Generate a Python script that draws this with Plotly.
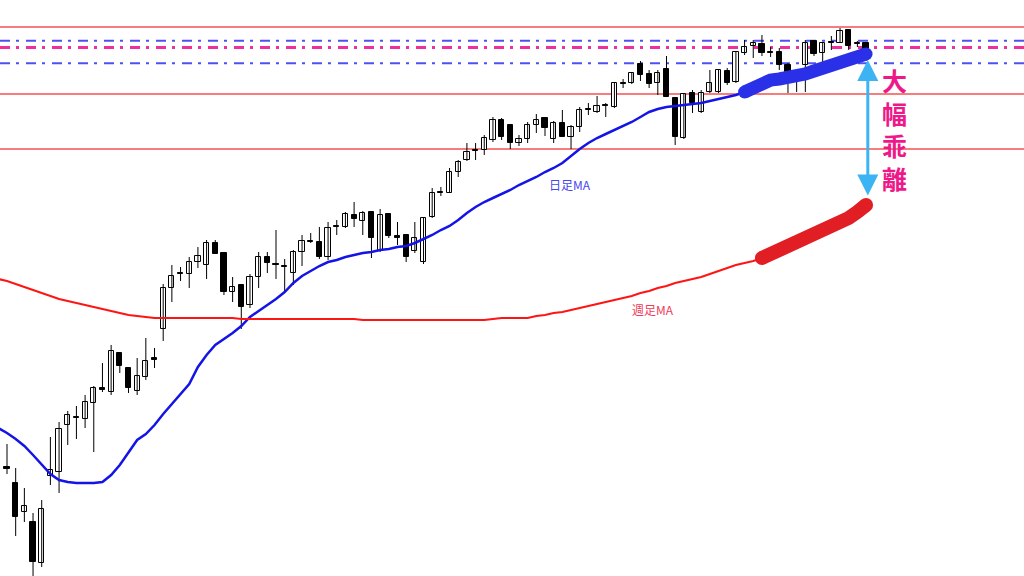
import plotly.graph_objects as go

# ---- candle data (price units) ----
idx = list(range(100))
open_ = [113.3,111.7,108.8,107.8,103.7,112.4,112.8,117.5,118.3,118.1,
         119.7,121.2,120.8,124.7,123.2,120.9,122.3,124.2,127.1,131.2,
         132.7,132.6,133.8,133.5,135.7,134.7,130.8,131.5,129.5,132.3,
         134.3,133.6,133.4,132.7,134.8,135.9,135.8,134.3,137.4,137.3,
         138.5,137.9,138.8,134.9,138.6,136.4,136.5,134.9,133.8,138.3,
         140.8,140.7,142.8,144.0,145.0,145.0,146.0,148.0,147.5,145.7,
         146.1,147.5,148.2,146.1,147.7,146.3,147.3,149.1,148.8,149.5,
         149.3,151.7,151.7,153.6,152.6,151.7,153.1,150.2,146.2,150.7,
         148.8,150.8,150.8,152.9,151.8,154.7,155.4,155.6,154.8,154.8,
         153.5,152.0,153.5,155.9,154.7,155.8,155.7,157.0,155.7,155.7]
high = [115.6,113.2,111.2,108.7,110.0,116.3,117.8,118.9,119.4,120.5,
        121.4,123.7,125.5,124.8,123.3,124.2,126.2,125.2,131.6,133.5,
        133.3,134.3,135.3,136.0,136.0,134.7,132.3,131.5,132.6,134.8,
        134.8,137.0,134.1,135.0,136.5,136.7,137.3,137.8,138.0,138.8,
        139.8,138.9,138.9,139.1,138.7,137.8,136.6,137.8,138.2,141.2,
        141.3,143.2,144.0,145.7,145.7,146.5,148.3,148.2,147.5,146.5,
        147.8,148.6,148.3,147.9,149.0,147.5,149.3,149.7,150.4,149.7,
        151.7,152.1,152.8,153.9,153.0,153.0,154.4,150.3,150.6,151.0,
        151.0,153.0,153.0,153.2,154.8,156.0,156.0,156.5,155.3,155.2,
        153.7,152.5,156.0,156.0,155.8,156.4,157.2,157.1,155.9,155.8]
low = [112.6,106.4,107.8,102.0,103.3,111.5,110.7,115.5,116.1,117.2,
       114.8,120.8,120.5,122.7,120.7,120.5,122.0,123.2,125.9,129.8,
       131.9,131.2,133.2,132.1,134.6,130.5,129.8,127.1,129.2,131.2,
       132.7,132.1,130.9,131.5,133.4,135.7,134.1,134.0,136.5,137.2,
       137.3,136.5,134.2,134.8,136.2,135.5,133.8,134.7,133.6,138.2,
       140.4,140.7,142.3,143.9,144.0,144.5,145.8,146.0,145.1,145.4,
       145.7,146.7,146.4,145.7,146.3,145.1,146.8,148.5,148.7,148.3,
       149.2,151.2,151.6,151.9,151.2,150.5,150.3,145.5,146.1,148.7,
       148.7,150.7,150.7,151.5,151.7,154.5,154.2,154.4,154.3,153.0,
       150.7,150.8,150.8,154.4,153.7,155.0,155.7,155.0,155.3,154.9]
close = [113.1,108.3,109.4,103.8,109.1,113.0,117.1,118.5,118.2,119.8,
         121.2,121.0,124.9,123.4,121.2,122.4,123.9,124.0,131.2,132.4,
         132.6,133.8,134.4,135.7,134.6,130.8,131.3,129.3,132.3,134.3,
         133.7,133.5,133.3,134.8,135.9,135.8,134.3,137.2,137.3,138.6,
         138.1,138.7,136.2,138.5,136.4,136.2,134.3,136.2,138.2,140.7,
         140.7,142.8,143.8,144.8,144.9,146.2,148.0,146.3,145.7,146.1,
         147.5,148.0,147.2,147.7,146.3,147.3,149.0,149.0,149.4,149.4,
         151.7,151.6,152.7,152.5,151.6,152.7,150.3,146.3,150.6,149.7,
         150.7,151.7,153.0,151.7,154.8,155.3,155.7,154.7,154.7,153.5,
         152.8,152.1,155.7,154.6,155.7,155.7,156.9,155.4,155.6,155.0]

# ---- moving averages ----
ma_idx = list(range(-1, 100))
daily_ma = [117.2,
            116.7,116.1,115.4,114.5,113.5,112.6,112.0,111.8,111.7,111.7,
            111.7,111.8,112.5,113.5,114.8,116.0,116.6,117.5,118.6,119.6,
            120.5,121.6,123.3,124.5,125.5,126.1,126.7,127.4,128.3,128.9,
            129.5,130.1,130.8,131.7,132.4,132.9,133.4,133.8,134.0,134.3,
            134.5,134.7,134.8,135.0,135.1,135.3,135.4,135.7,136.1,136.5,
            137.0,137.4,138.0,138.7,139.3,139.8,140.2,140.6,141.0,141.5,
            141.9,142.3,142.8,143.2,143.7,144.4,145.1,145.7,146.2,146.6,
            147.0,147.4,147.8,148.3,148.8,149.1,149.3,149.4,149.5,149.6,
            149.7,149.9,150.1,150.3,150.5,150.8,151.2,151.7,152.0,152.1,
            152.2,152.3,152.6,152.9,153.2,153.5,153.8,154.0,154.3,154.6]
weekly_ma = [132.1,
             131.9,131.6,131.3,131.0,130.7,130.4,130.1,129.9,129.7,129.5,
             129.3,129.1,128.9,128.7,128.5,128.4,128.3,128.2,128.2,128.2,
             128.2,128.2,128.2,128.2,128.2,128.2,128.2,128.1,128.1,128.1,
             128.1,128.1,128.1,128.1,128.1,128.1,128.1,128.1,128.1,128.1,
             128.1,128.0,128.0,128.0,128.0,128.0,128.0,128.0,128.0,128.0,
             128.0,128.0,128.0,128.0,128.0,128.0,128.1,128.2,128.2,128.2,
             128.2,128.4,128.5,128.7,128.8,129.0,129.2,129.4,129.6,129.8,
             130.0,130.2,130.4,130.7,130.9,131.2,131.4,131.7,131.9,132.1,
             132.3,132.6,132.9,133.2,133.5,133.7,133.9,134.2,134.6,134.9,
             135.1,135.5,136.0,136.3,136.7,137.1,137.7,138.2,138.8,139.5]
daily_hl_start = 85
weekly_hl_start = 87

# ---- horizontal levels ----
red_levels = [157.3, 150.6, 145.1]
blue_levels = [155.93, 153.67]
pink_levels = [155.25]

# ---- deviation arrow (price span) ----
gap_top = 154.0
gap_bottom = 140.3

labels = ["日足MA", "週足MA", "大幅乖離"]

fig = go.Figure()

# wicks
wx, wy = [], []
for i, h, l in zip(idx, high, low):
    wx += [i, i, None]
    wy += [l, h, None]
fig.add_trace(go.Scatter(x=wx, y=wy, mode="lines", line=dict(color="black", width=1),
                         hoverinfo="skip", showlegend=False))

# bodies
base = [min(o, c) for o, c in zip(open_, close)]
hgt = [max(abs(c - o), 0.12) for o, c in zip(open_, close)]
cols = ["white" if c > o else "black" for o, c in zip(open_, close)]
fig.add_trace(go.Bar(x=idx, y=hgt, base=base, width=0.6,
                     marker=dict(color=cols, line=dict(color="black", width=1)),
                     showlegend=False, hoverinfo="skip"))

# MAs
fig.add_trace(go.Scatter(x=ma_idx, y=daily_ma, mode="lines",
                         line=dict(color="#1414e6", width=2.5), showlegend=False))
fig.add_trace(go.Scatter(x=ma_idx, y=weekly_ma, mode="lines",
                         line=dict(color="#ff1414", width=2), showlegend=False))

# highlighted ends
k = daily_hl_start + 1
fig.add_trace(go.Scatter(x=ma_idx[k:], y=daily_ma[k:], mode="lines",
                         line=dict(color="#2a30e8", width=13), showlegend=False))
fig.add_trace(go.Scatter(x=[ma_idx[k], ma_idx[-1]], y=[daily_ma[k], daily_ma[-1]], mode="markers",
                         marker=dict(color="#2a30e8", size=13), showlegend=False))
k = weekly_hl_start + 1
fig.add_trace(go.Scatter(x=ma_idx[k:], y=weekly_ma[k:], mode="lines",
                         line=dict(color="#e01e24", width=14), showlegend=False))
fig.add_trace(go.Scatter(x=[ma_idx[k], ma_idx[-1]], y=[weekly_ma[k], weekly_ma[-1]], mode="markers",
                         marker=dict(color="#e01e24", size=14), showlegend=False))

# horizontal lines
for v in red_levels:
    fig.add_shape(type="line", xref="paper", x0=0, x1=1, y0=v, y1=v, layer="below",
                  line=dict(color="#f45050", width=1.5))
for v in blue_levels:
    fig.add_shape(type="line", xref="paper", x0=0, x1=1, y0=v, y1=v, layer="below",
                  line=dict(color="#5050f0", width=2, dash="10px,6px,3px,7px"))
for v in pink_levels:
    fig.add_shape(type="line", xref="paper", x0=0, x1=1, y0=v, y1=v, layer="below",
                  line=dict(color="#f0309a", width=3, dash="10px,6px,3px,7px"))

# arrow
fig.add_annotation(x=99.2, y=gap_top, ax=99.2, ay=gap_bottom, xref="x", yref="y", axref="x", ayref="y",
                   text="", showarrow=True, arrowside="end+start", arrowhead=2,
                   arrowsize=1.4, arrowwidth=3, arrowcolor="#3cb4f4")

jp = "Noto Sans CJK JP"
fig.add_annotation(x=64.9, y=141.6, text=labels[0], showarrow=False,
                   font=dict(family=jp, size=12, color="#4646f0"))
fig.add_annotation(x=74.4, y=129.05, text=labels[1], showarrow=False,
                   font=dict(family=jp, size=12, color="#f03c5a"))
fig.add_annotation(x=102.3, y=147.15, text="<b>" + "<br>".join(labels[2]) + "</b>", showarrow=False,
                   font=dict(family=jp, size=25, color="#ee1889"))

fig.update_layout(
    width=1024, height=576, margin=dict(l=0, r=0, t=0, b=0),
    paper_bgcolor="white", plot_bgcolor="white", showlegend=False,
    xaxis=dict(range=[-0.807, 117.2], visible=False, fixedrange=True),
    yaxis=dict(range=[102.4, 160.0], visible=False, fixedrange=True),
    bargap=0,
)
fig.write_html("out.html", config={"displayModeBar": False},
               post_script="document.body.style.margin='0';document.body.style.overflow='hidden';")
